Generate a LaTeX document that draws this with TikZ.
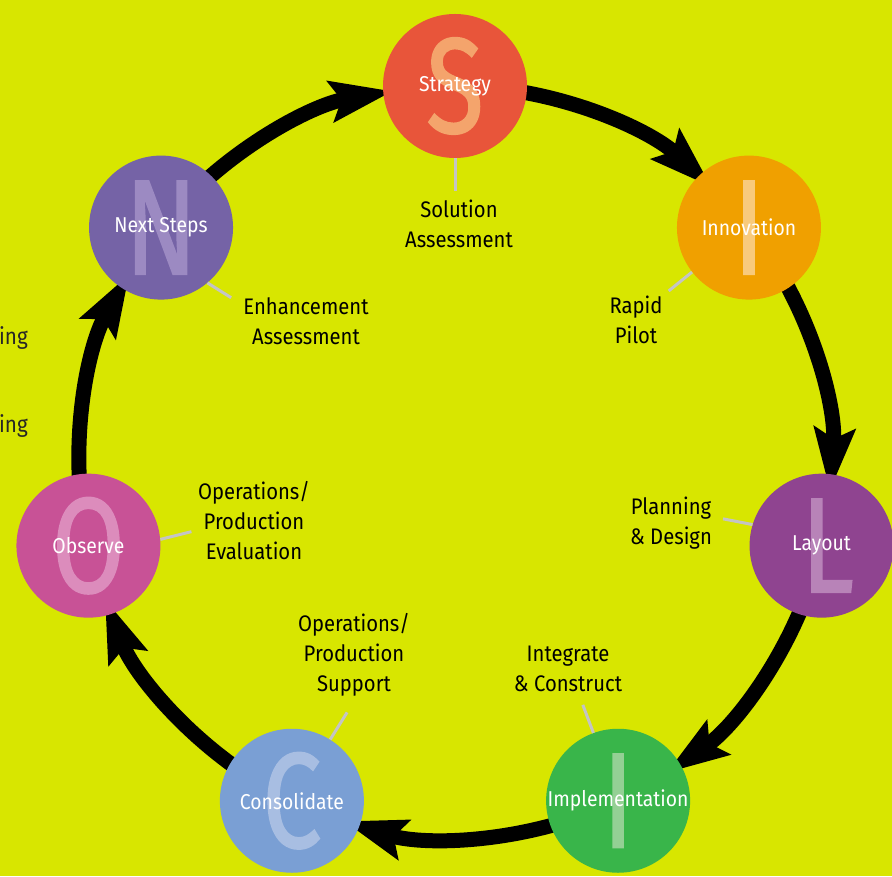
\documentclass[tikz,border=0pt]{standalone}
\usepackage{fontspec}
\setmainfont{Fira Sans}[FakeStretch=0.9]
\newfontfamily\bigletterfont{Fira Sans}[FakeBold=1.5]
\usetikzlibrary{arrows.meta,calc}
\definecolor{BackClr}{HTML}{D8E600}
\definecolor{LeaderClr}{HTML}{C4C4C4}
\definecolor{StratClr}{HTML}{E8553A}
\definecolor{StratLtr}{HTML}{F4A46C}
\definecolor{InnovClr}{HTML}{F0A000}
\definecolor{InnovLtr}{HTML}{F8CA7C}
\definecolor{LayoutClr}{HTML}{8F4490}
\definecolor{LayoutLtr}{HTML}{B883B8}
\definecolor{ImplClr}{HTML}{39B54A}
\definecolor{ImplLtr}{HTML}{94D094}
\definecolor{ConsClr}{HTML}{7A9FD4}
\definecolor{ConsLtr}{HTML}{A8BEE2}
\definecolor{ObsClr}{HTML}{C85296}
\definecolor{ObsLtr}{HTML}{DC8CBC}
\definecolor{NextClr}{HTML}{7563A6}
\definecolor{NextLtr}{HTML}{9C8AC2}

\begin{document}
\begin{tikzpicture}[x=1pt,y=1pt,
  stage/.style={circle,minimum size=144pt,inner sep=0pt},
  letter/.style={inner sep=0pt,font=\bigletterfont\fontsize{135}{135}\selectfont},
  stagename/.style={text=white,font=\fontsize{21.5}{26}\selectfont},
  lbl/.style={align=center,text=black,font=\fontsize{22.5}{30}\selectfont},
  leader/.style={draw=LeaderClr,line width=3pt},
  flow/.style={line width=15pt,-{Stealth[length=62pt,width=40pt,inset=10pt]}}]
\fill[BackClr] (0,0) rectangle (892,876);
\useasboundingbox (0,0) rectangle (892,876);

\coordinate (c) at (455,414);

% arrows round the cycle
\draw[flow] (c) ++(84:376) arc[start angle=84,end angle=47,radius=376];
\draw[flow] (c) ++(32.6:376) arc[start angle=32.6,end angle=-4.4,radius=376];
\draw[flow] (c) ++(-18.9:376) arc[start angle=-18.9,end angle=-55.8,radius=376];
\draw[flow] (c) ++(-70.3:376) arc[start angle=-70.3,end angle=-107.2,radius=376];
\draw[flow] (c) ++(-121.7:376) arc[start angle=-121.7,end angle=-158.6,radius=376];
\draw[flow] (c) ++(-173.1:376) arc[start angle=-173.1,end angle=-210,radius=376];
\draw[flow] (c) ++(135.4:376) arc[start angle=135.4,end angle=99.5,radius=376];

% stages
\node[stage,fill=StratClr] (strat) at ($(c)+(90:376)$) {};
\node[letter,text=StratLtr] at (strat) {\scalebox{0.78}[1]{S}};
\node[stagename] at (strat) {Strategy};

\node[stage,fill=InnovClr] (innov) at ($(c)+(38.57:376)$) {};
\node[letter,text=InnovLtr] at (innov) {\scalebox{0.78}[1]{I}};
\node[stagename] at (innov) {Innovation};

\node[stage,fill=LayoutClr] (layout) at ($(c)+(-12.86:376)$) {};
\node[letter,text=LayoutLtr] at ([xshift=6pt]layout) {\scalebox{0.78}[1]{L}};
\node[stagename] at (layout) {Layout};

\node[stage,fill=ImplClr] (impl) at ($(c)+(-64.29:376)$) {};
\node[letter,text=ImplLtr] at (impl) {\scalebox{0.78}[1]{I}};
\node[stagename] at (impl) {Implementation};

\node[stage,fill=ConsClr] (cons) at ($(c)+(-115.71:376)$) {};
\node[letter,text=ConsLtr] at (cons) {\scalebox{0.78}[1]{C}};
\node[stagename] at (cons) {Consolidate};

\node[stage,fill=ObsClr] (obs) at ($(c)+(-167.14:376)$) {};
\node[letter,text=ObsLtr] at (obs) {\scalebox{0.78}[1]{O}};
\node[stagename] at (obs) {Observe};

\node[stage,fill=NextClr] (next) at ($(c)+(141.43:376)$) {};
\node[letter,text=NextLtr] at (next) {\scalebox{0.78}[1]{N}};
\node[stagename] at (next) {Next Steps};

% outcome labels
\node[lbl] (sol) at (459,652) {Solution\\Assessment};
\node[lbl] (rapid) at (636,556) {Rapid\\Pilot};
\node[lbl] (plan) at (671,353) {Planning\\\& Design};
\node[lbl] (integ) at (568,207) {Integrate\\\& Construct};
\node[lbl] (supp) at (354,221) {Operations/\\Production\\Support};
\node[lbl] (eval) at (254,355) {Operations/\\Production\\Evaluation};
\node[lbl] (enh) at (306,555) {Enhancement\\Assessment};

\draw[leader] (strat.270) -- ++(270:33) coordinate (strat-end);
\draw[leader] (innov.218.9) -- ++(218.9:30) coordinate (innov-end);
\draw[leader] (layout.163) -- ++(169:30) coordinate (layout-end);
\draw[leader] (impl.110.7) -- ++(110.7:30) coordinate (impl-end);
\draw[leader] (cons.58) -- ++(58:32) coordinate (cons-end);
\draw[leader] (obs.5) -- ++(14:32) coordinate (obs-end);
\draw[leader] (next.-50) -- ++(-32:28) coordinate (next-end);

% cut-off text at the left edge
\node[anchor=base east,inner sep=0pt,text=black!85,font=\fontsize{23}{26}\selectfont] (cut1) at (28,531) {ing};
\node[anchor=base east,inner sep=0pt,text=black!85,font=\fontsize{23}{26}\selectfont] (cut2) at (28,443) {ing};
\end{tikzpicture}
\end{document}
